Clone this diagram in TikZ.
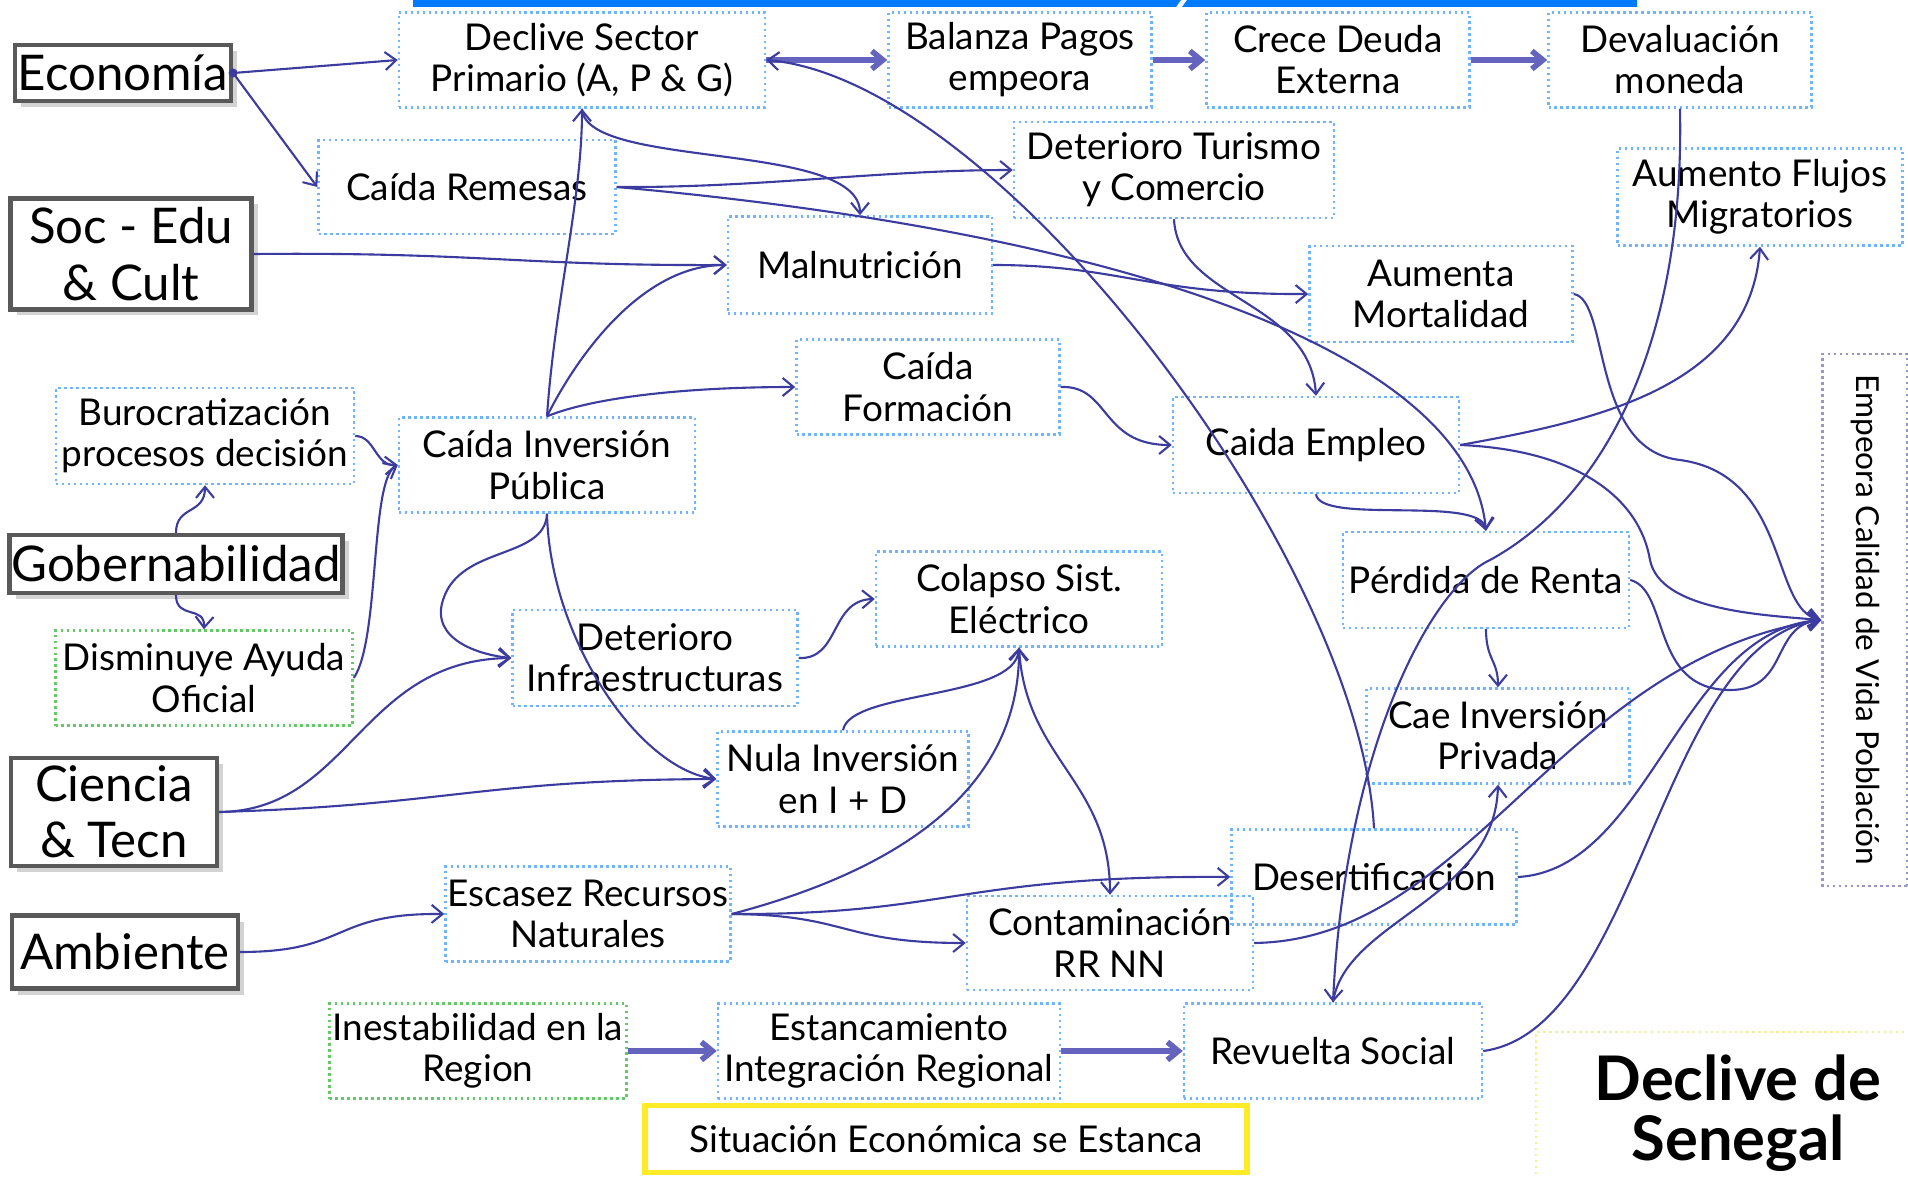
\documentclass[tikz,border=0pt]{standalone}
\usepackage{fontspec}
\setmainfont{Lato}
\usepackage{tikz}
\usetikzlibrary{arrows.meta}
\usetikzlibrary{shadows}

\definecolor{linkc}{RGB}{60,60,160}
\definecolor{fatc}{RGB}{100,100,190}
\definecolor{boxblue}{RGB}{110,180,255}
\definecolor{boxgreen}{RGB}{100,200,100}
\definecolor{barblue}{RGB}{0,122,255}
\definecolor{sityellow}{RGB}{255,235,40}
\definecolor{tityellow}{RGB}{240,240,150}
\definecolor{calc}{RGB}{150,150,205}

\begin{document}
\begin{tikzpicture}[x=0.1mm, y=-0.1mm, >={Straight Barb[length=1.1mm, width=1.8mm]},
    box/.style={draw=boxblue, densely dotted, line width=0.7pt, minimum height=9.5mm,
        inner sep=0pt, align=center, font=\fontsize{10.5}{11.7}\selectfont},
    greenbox/.style={box, draw=boxgreen},
    cat/.style={draw=black!65, line width=1.2pt, fill=white, inner sep=0pt, align=center,
        drop shadow={shadow xshift=0.6mm, shadow yshift=-0.6mm, opacity=0.35},
        font=\fontsize{14}{16}\selectfont},
    link/.style={draw=linkc, line width=0.6pt, ->},
    fat/.style={draw=fatc, line width=1.6pt, ->}]
    \useasboundingbox (0,0) rectangle (1908,1177);

    % Blue bar on top
    \fill[barblue] (413,0) -- (1181,0) -- (1176,7) -- (413,7) -- cycle;
    \fill[barblue] (1187,0) -- (1637,0) -- (1637,7) -- (1182,7) -- cycle;

    % Categories
    \node[cat, minimum width=21.6mm, minimum height=5.6mm] (eco) at (123,73) {Economía};
    \node[cat, minimum width=24.1mm, minimum height=11.1mm] (soc) at (131,254) {Soc - Edu\\\& Cult};
    \node[cat, minimum width=33.3mm, minimum height=5.8mm] (gob) at (176,564) {Gobernabilidad};
    \node[cat, minimum width=20.6mm, minimum height=10.8mm] (cyt) at (114,812) {Ciencia\\\& Tecn};
    \node[cat, minimum width=22.6mm, minimum height=7.3mm] (amb) at (125,952) {Ambiente};

    % Top row
    \node[box, minimum width=36.6mm] (declive) at (582,60) {Declive Sector\\Primario (A, P \& G)};
    \node[box, minimum width=26.3mm] (balanza) at (1020,60) {Balanza Pagos\\empeora};
    \node[box, minimum width=26.3mm] (deuda) at (1338,60) {Crece Deuda\\Externa};
    \node[box, minimum width=26.3mm] (deval) at (1680,60) {Devaluación\\moneda};

    % Effects
    \node[box, minimum width=29.7mm, minimum height=9.4mm] (remesas) at (467,187) {Caída Remesas};
    \node[box, minimum width=32mm, minimum height=9.6mm] (turismo) at (1174,170) {Deterioro Turismo\\y Comercio};
    \node[box, minimum width=28.5mm, minimum height=9.7mm] (flujos) at (1760,197) {Aumento Flujos\\Migratorios};
    \node[box, minimum width=26.4mm, minimum height=9.7mm] (malnu) at (860,265) {Malnutrición};
    \node[box, minimum width=26.3mm, minimum height=9.6mm] (mortal) at (1441,294) {Aumenta\\Mortalidad};
    \node[box, minimum width=26.3mm] (formac) at (928,387) {Caída\\Formación};
    \node[box, minimum width=29.8mm, minimum height=9.6mm] (buro) at (205,436) {Burocratización\\procesos decisión};
    \node[box, minimum width=29.6mm] (cinvpub) at (547,465) {Caída Inversión\\Pública};
    \node[box, minimum width=28.6mm, minimum height=9.6mm] (empleo) at (1316,445) {Caida Empleo};
    \node[box, minimum width=28.6mm, minimum height=9.6mm] (renta) at (1486,580) {Pérdida de Renta};
    \node[box, minimum width=28.6mm] (colapso) at (1019,599) {Colapso Sist.\\Eléctrico};
    \node[box, minimum width=28.5mm, minimum height=9.6mm] (infra) at (655,658) {Deterioro\\Infraestructuras};
    \node[greenbox, minimum width=29.7mm] (ayuda) at (204,678) {Disminuye Ayuda\\Oficial};
    \node[box, minimum width=26.3mm] (cinvpriv) at (1498,736) {Cae Inversión\\Privada};
    \node[box, minimum width=25.1mm] (nula) at (843,779) {Nula Inversión\\en I + D};
    \node[box, minimum width=28.5mm] (desert) at (1374,877) {Desertificación};
    \node[box, minimum width=28.5mm] (escasez) at (588,914) {Escasez Recursos\\Naturales};
    \node[box, minimum width=28.6mm, minimum height=9.4mm] (contam) at (1110,943) {Contaminación\\RR NN};
    \node[greenbox, minimum width=29.7mm] (inest) at (478,1051) {Inestabilidad en la\\Region};
    \node[box, minimum width=34.2mm] (estanc) at (889,1051) {Estancamiento\\Integración Regional};
    \node[box, minimum width=29.8mm] (revuelta) at (1333,1051) {Revuelta Social};
    \node[box, draw=sityellow, solid, line width=1.6pt, minimum width=60.2mm, minimum height=6.7mm] (situac) at (946,1139) {Situación Económica se Estanca};
    % vertical box, its south side faces left
    \node[box, draw=calc, rotate=-90, minimum width=53.2mm, minimum height=8.5mm,
        font=\fontsize{9}{11}\selectfont] (calidad) at (1865,620) {Empeora Calidad de Vida Población};

    % Title
    \draw[tityellow, densely dotted, line width=0.7pt] (1536,1180) -- (1536,1032) -- (1912,1032);
    \node[font=\fontsize{17.5}{17}\selectfont\bfseries, align=center] (titulo) at (1738,1113) {Declive de\\Senegal};

    % Economia
    \fill[linkc] (eco.east) circle[radius=0.45mm];
    \draw[link] (eco.east) -- (declive.west);
    \draw[link] (eco.east) -- (remesas.west);

    % Soc - Edu
    \draw[link] (soc.east) .. controls (480,252) and (520,266) .. (malnu.west);

    % Top row arrows
    \draw[fat] (declive.east) -- (balanza.west);
    \draw[fat] (balanza.east) -- (deuda.west);
    \draw[fat] (deuda.east) -- (deval.west);
    \draw[link] (desert.north) .. controls (1360,560) and (1000,80) .. (declive.east);
    \draw[link] (deval.south) .. controls (1685,350) and (1600,500) .. (1490,560)
        .. controls (1430,588) and (1345,750) .. (revuelta.north);

    % Remesas
    \draw[link] (remesas.east) .. controls (760,188) and (880,170) .. (turismo.west);
    \draw[link] (remesas.east) .. controls (1150,235) and (1470,360) .. (renta.north);

    % Caida Inversion Publica
    \draw[link] (cinvpub.north) .. controls (555,300) and (582,200) .. (declive.south);
    \draw[link] (declive.south) .. controls (585,170) and (860,140) .. (malnu.north);
    \draw[link] (cinvpub.north) .. controls (575,360) and (640,265) .. (malnu.west);
    \draw[link] (cinvpub.north) .. controls (600,395) and (700,387) .. (formac.west);
    \draw[link] (formac.east) .. controls (1110,385) and (1100,445) .. (empleo.west);
    \draw[link] (cinvpub.south) .. controls (545,560) and (460,545) .. (443,600)
        .. controls (430,640) and (480,655) .. (infra.west);
    \draw[link] (cinvpub.south) .. controls (550,640) and (640,770) .. (nula.west);

    % Gobernabilidad
    \draw[link] (gob.north) .. controls (176,505) and (205,515) .. (buro.south);
    \draw[link] (gob.south) .. controls (176,620) and (205,605) .. (ayuda.north);
    \draw[link] (buro.east) .. controls (375,436) and (375,466) .. (cinvpub.west);
    \draw[link] (ayuda.east) .. controls (380,640) and (370,480) .. (cinvpub.west);

    % Ciencia
    \draw[link] (cyt.east) .. controls (350,811) and (360,660) .. (infra.west);
    \draw[link] (cyt.east) .. controls (450,805) and (480,780) .. (nula.west);
    \draw[link] (infra.east) .. controls (840,660) and (830,600) .. (colapso.west);
    \draw[link] (nula.north) .. controls (850,690) and (1015,700) .. (colapso.south);

    % Ambiente
    \draw[link] (amb.east) .. controls (350,952) and (330,913) .. (escasez.west);
    \draw[link] (escasez.east) .. controls (880,875) and (1020,800) .. (colapso.south);
    \draw[link] (escasez.east) .. controls (950,915) and (960,875) .. (desert.west);
    \draw[link] (escasez.east) .. controls (850,915) and (840,943) .. (contam.west);
    \draw[link] (colapso.south) .. controls (1025,760) and (1110,780) .. (contam.north);

    % Region
    \draw[fat] (inest.east) -- (estanc.west);
    \draw[fat] (estanc.east) -- (revuelta.west);

    % Empleo, renta
    \draw[link] (malnu.east) .. controls (1120,265) and (1150,295) .. (mortal.west);
    \draw[link] (turismo.south) .. controls (1178,300) and (1310,300) .. (empleo.north);
    \draw[link] (empleo.south) .. controls (1320,525) and (1480,495) .. (renta.north);
    \draw[link] (renta.south) .. controls (1486,660) and (1498,660) .. (cinvpriv.north);
    \draw[link] (empleo.east) .. controls (1600,420) and (1750,386) .. (flujos.south);
    \draw[link] (revuelta.north) .. controls (1345,920) and (1495,900) .. (cinvpriv.south);

    % Into Empeora Calidad
    \draw[link] (mortal.east) .. controls (1610,300) and (1590,450) .. (1680,460)
        .. controls (1790,475) and (1770,610) .. (calidad.south);
    \draw[link] (empleo.east) .. controls (1580,450) and (1640,500) .. (1650,560)
        .. controls (1660,610) and (1760,615) .. (calidad.south);
    \draw[link] (renta.east) .. controls (1670,590) and (1650,690) .. (1730,690)
        .. controls (1790,690) and (1770,625) .. (calidad.south);
    \draw[link] (desert.east) .. controls (1650,870) and (1680,630) .. (calidad.south);
    \draw[link] (contam.east) .. controls (1470,940) and (1560,660) .. (calidad.south);
    \draw[link] (revuelta.east) .. controls (1640,1030) and (1660,640) .. (calidad.south);
\end{tikzpicture}
\end{document}
